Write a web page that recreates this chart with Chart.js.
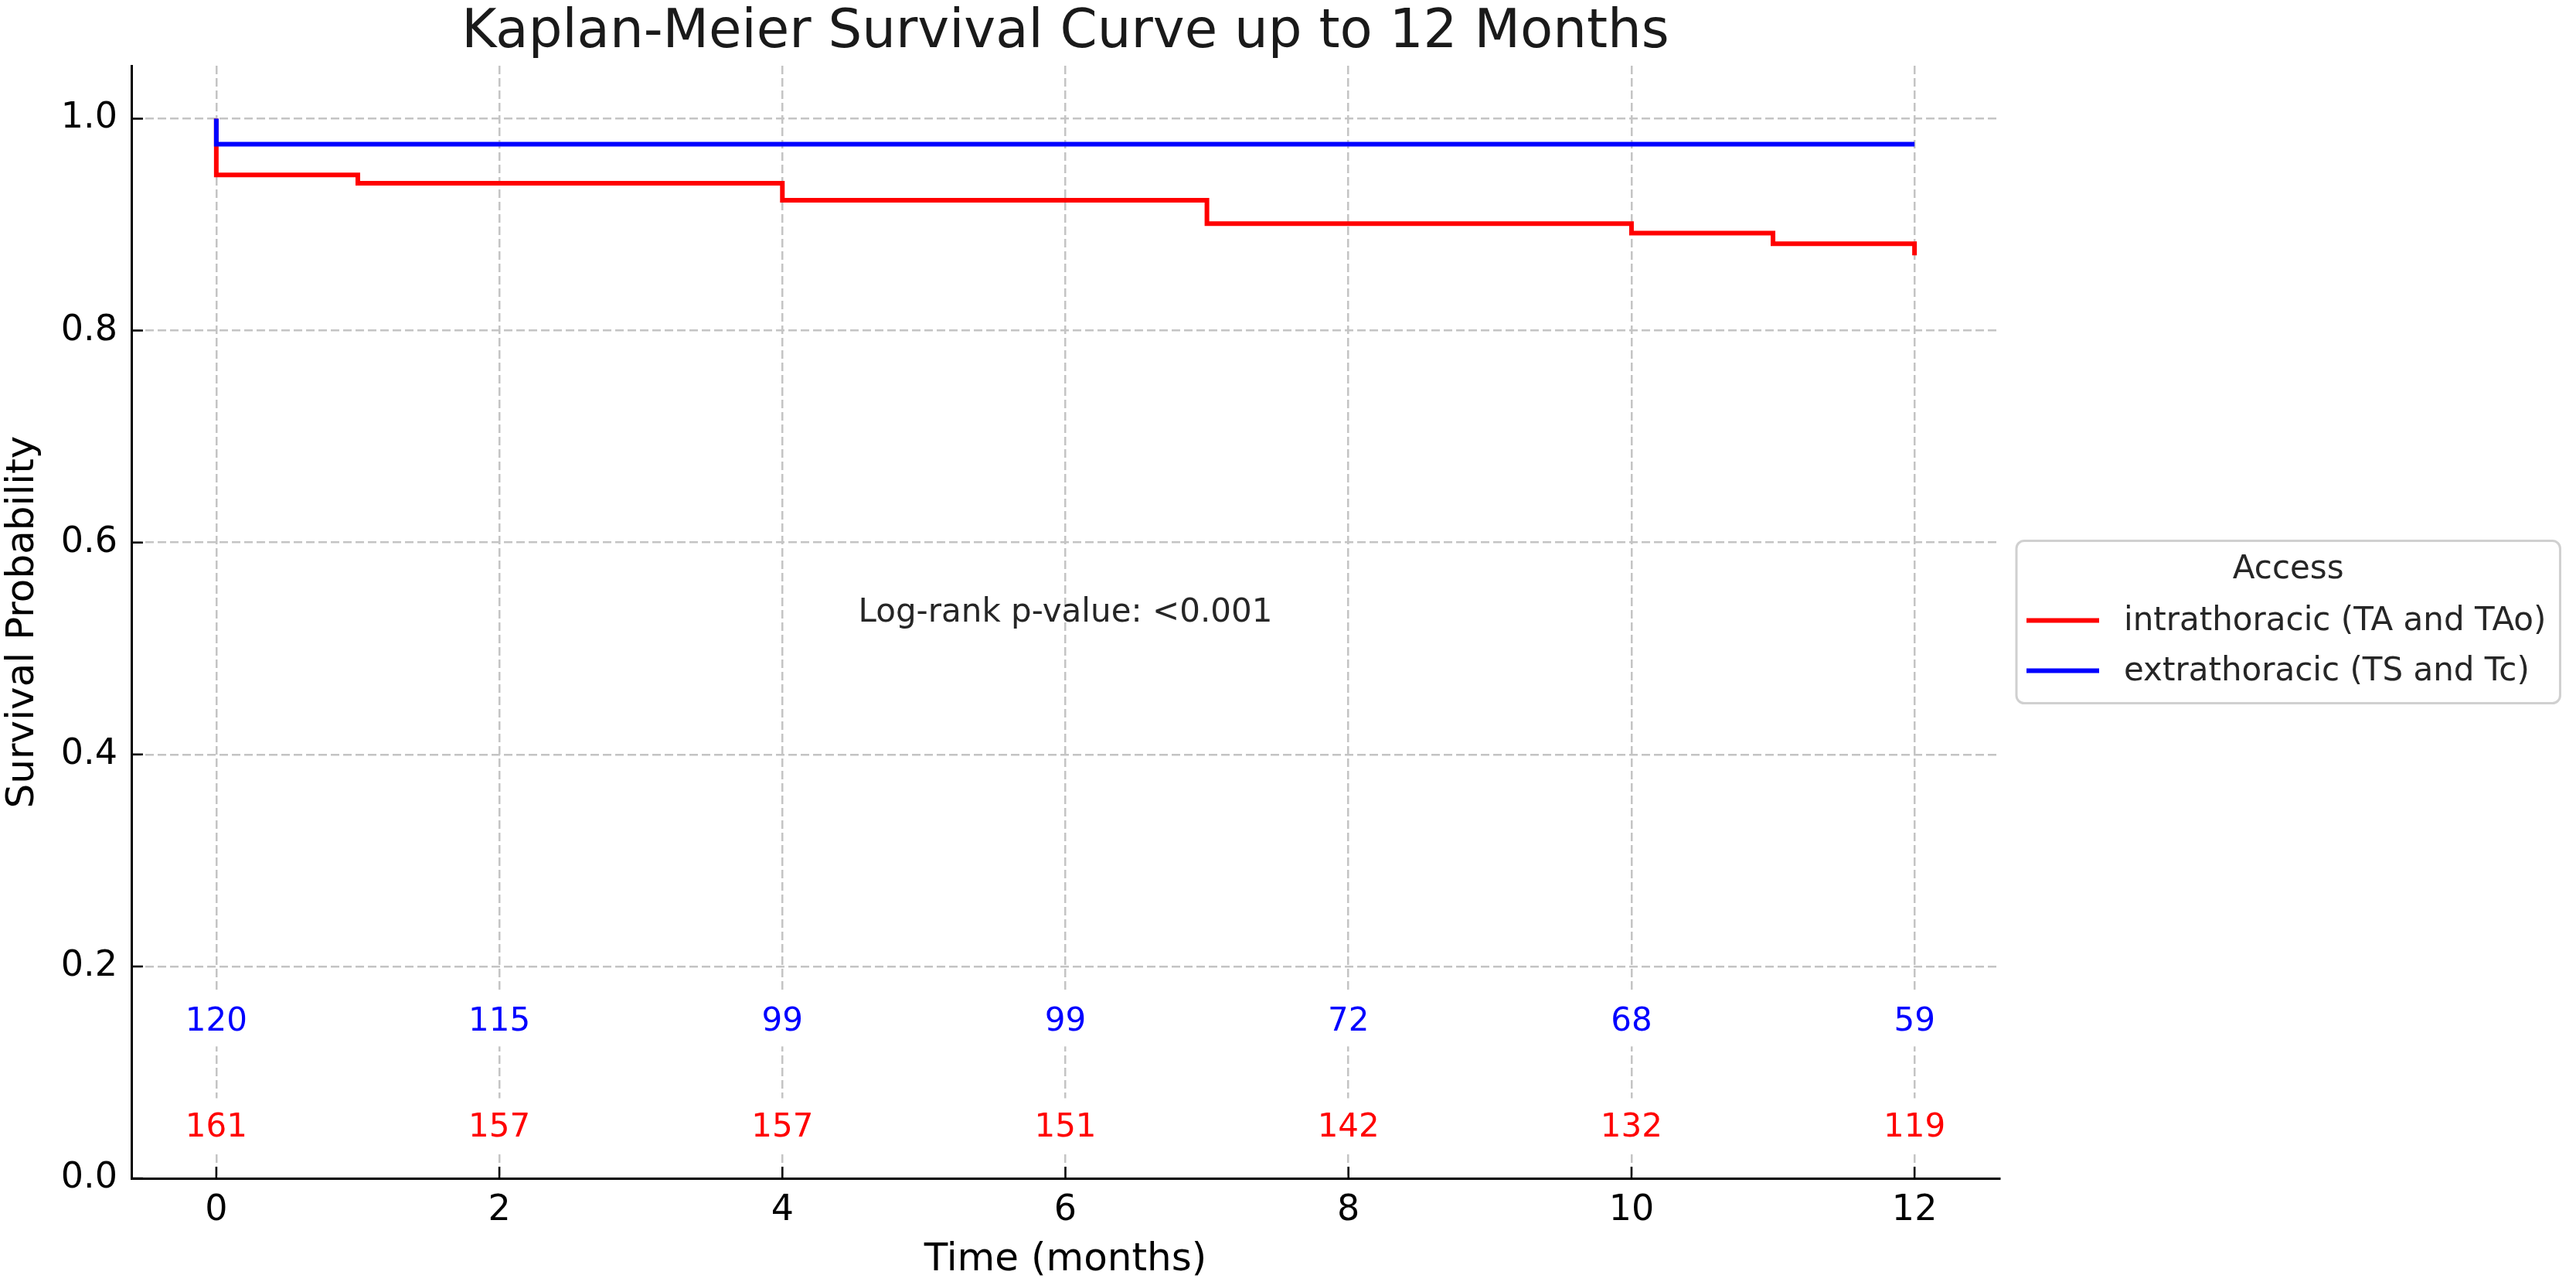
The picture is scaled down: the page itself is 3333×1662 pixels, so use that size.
<!DOCTYPE html>
<html>
<head>
<meta charset="utf-8">
<script src="https://cdn.jsdelivr.net/npm/chart.js@4.4.1/dist/chart.umd.min.js"></script>
<style>
  html, body { margin: 0; padding: 0; background: #fff; }
  #wrap { width: 3333px; height: 1662px; }
</style>
</head>
<body>
<div id="wrap"><canvas id="km" width="3333" height="1662"></canvas></div>
<script>
// values
const xTicks = [0, 2, 4, 6, 8, 10, 12];
const yTicks = [0, 0.2, 0.4, 0.6, 0.8, 1.0];

// Kaplan-Meier steps (time, survival after the step)
const intraTimes = [0, 0, 1, 4, 7, 10, 11, 12];
const intraSurv = [1.0, 0.947, 0.939, 0.923, 0.901, 0.892, 0.882, 0.871];
const extraTimes = [0, 0, 12];
const extraSurv = [1.0, 0.976, 0.976];

// numbers at risk
const riskTimes = [0, 2, 4, 6, 8, 10, 12];
const intraAtRisk = [161, 157, 157, 151, 142, 132, 119];
const extraAtRisk = [120, 115, 99, 99, 72, 68, 59];

const seriesLabels = ['intrathoracic (TA and TAo)', 'extrathoracic (TS and Tc)'];
const seriesColors = ['#ff0000', '#0000ff'];
const legendTitle = 'Access';
const pValueText = 'Log-rank p-value: <0.001';

const FONT = "'DejaVu Sans', sans-serif";

function toPoints(times, values) {
    return times.map((t, i) => ({ x: t, y: values[i] }));
}

// at-risk numbers, p-value, inward ticks and the boxed legend
const extrasPlugin = {
    id: 'kmExtras',
    afterDatasetsDraw(chart) {
        const ctx = chart.ctx;
        const xs = chart.scales.x;
        const ys = chart.scales.y;
        ctx.save();
        ctx.font = '42px ' + FONT;
        ctx.textAlign = 'center';
        ctx.textBaseline = 'alphabetic';
        const rows = [[extraAtRisk, 0.15, seriesColors[1]], [intraAtRisk, 0.05, seriesColors[0]]];
        rows.forEach(([counts, level, color]) => {
            counts.forEach((n, i) => {
                const px = xs.getPixelForValue(riskTimes[i]);
                const py = ys.getPixelForValue(level);
                const txt = String(n);
                const w = ctx.measureText(txt).width;
                ctx.fillStyle = '#ffffff';
                ctx.fillRect(px - w / 2 - 10, py - 35, w + 20, 70);
                ctx.fillStyle = color;
                ctx.fillText(txt, px, py + 15);
            });
        });
        ctx.fillStyle = '#262626';
        ctx.fillText(pValueText, xs.getPixelForValue(6), ys.getPixelForValue(0.536) + 15);
        ctx.restore();
    },
    afterDraw(chart) {
        const ctx = chart.ctx;
        const a = chart.chartArea;
        const xs = chart.scales.x;
        const ys = chart.scales.y;
        ctx.save();
        // ticks point into the plot
        ctx.strokeStyle = '#000';
        ctx.lineWidth = 2.5;
        ctx.beginPath();
        xTicks.forEach(v => {
            const px = xs.getPixelForValue(v);
            ctx.moveTo(px, a.bottom);
            ctx.lineTo(px, a.bottom - 15);
        });
        yTicks.forEach(v => {
            const py = ys.getPixelForValue(v);
            ctx.moveTo(a.left, py);
            ctx.lineTo(a.left + 15, py);
        });
        ctx.stroke();

        // legend
        ctx.font = '42px ' + FONT;
        const textW = Math.max(...seriesLabels.map(s => ctx.measureText(s).width));
        const bx = a.right + 22;
        const bw = 139 + textW + 18;
        const bh = 210;
        const by = (a.top + a.bottom) / 2 - bh / 2;
        ctx.beginPath();
        ctx.roundRect(bx, by, bw, bh, 10);
        ctx.fillStyle = '#ffffff';
        ctx.fill();
        ctx.strokeStyle = '#d0d0d0';
        ctx.lineWidth = 3;
        ctx.stroke();

        ctx.fillStyle = '#262626';
        ctx.textAlign = 'center';
        ctx.textBaseline = 'middle';
        ctx.fillText(legendTitle, bx + bw / 2, by + 38);

        ctx.textAlign = 'left';
        seriesLabels.forEach((label, i) => {
            const ly = by + 103 + i * 65;
            ctx.strokeStyle = seriesColors[i];
            ctx.lineWidth = 6;
            ctx.beginPath();
            ctx.moveTo(bx + 13, ly);
            ctx.lineTo(bx + 107, ly);
            ctx.stroke();
            ctx.fillStyle = '#262626';
            ctx.fillText(label, bx + 139, ly + 2);
        });
        ctx.restore();
    }
};

const gridOpts = { color: '#c4c4c4', lineWidth: 2.5, drawTicks: false };
const borderOpts = { display: true, color: '#000', width: 3, dash: [11, 5] };

new Chart(document.getElementById('km'), {
    type: 'line',
    data: {
        datasets: [
            {
                label: seriesLabels[0],
                data: toPoints(intraTimes, intraSurv),
                borderColor: seriesColors[0],
                stepped: true,
                order: 1
            },
            {
                label: seriesLabels[1],
                data: toPoints(extraTimes, extraSurv),
                borderColor: seriesColors[1],
                stepped: true,
                order: 0
            }
        ]
    },
    options: {
        responsive: false,
        animation: false,
        devicePixelRatio: 1,
        layout: { padding: { left: 0, right: 746, top: 0, bottom: 0 } },
        elements: {
            line: { borderWidth: 6, tension: 0, fill: false },
            point: { radius: 0, hoverRadius: 0 }
        },
        plugins: {
            legend: { display: false },
            tooltip: { enabled: false },
            title: {
                display: true,
                text: 'Kaplan-Meier Survival Curve up to 12 Months',
                fullSize: false,
                color: '#1a1a1a',
                font: { family: FONT, size: 69, weight: 'normal', lineHeight: '60px' },
                padding: { top: 13, bottom: 12 }
            }
        },
        scales: {
            x: {
                type: 'linear',
                min: -0.6,
                max: 12.6,
                afterBuildTicks: s => { s.ticks = xTicks.map(v => ({ value: v })); },
                afterFit: s => { s.height = 138; },
                ticks: {
                    font: { family: FONT, size: 46 },
                    color: '#000',
                    padding: 14,
                    maxRotation: 0,
                    autoSkip: false,
                    callback: v => String(v)
                },
                grid: gridOpts,
                border: borderOpts,
                title: {
                    display: true,
                    text: 'Time (months)',
                    color: '#000',
                    font: { family: FONT, size: 50 },
                    padding: { top: 0, bottom: 2 }
                }
            },
            y: {
                type: 'linear',
                min: 0,
                max: 1.05,
                afterBuildTicks: s => { s.ticks = yTicks.map(v => ({ value: v })); },
                afterFit: s => { s.width = 170; },
                ticks: {
                    font: { family: FONT, size: 46 },
                    color: '#000',
                    padding: 18,
                    callback: v => v.toFixed(1)
                },
                grid: gridOpts,
                border: borderOpts,
                title: {
                    display: true,
                    text: 'Survival Probability',
                    color: '#000',
                    font: { family: FONT, size: 50 },
                    padding: { top: 0, bottom: 0 }
                }
            }
        }
    },
    plugins: [extrasPlugin]
});
</script>
</body>
</html>
